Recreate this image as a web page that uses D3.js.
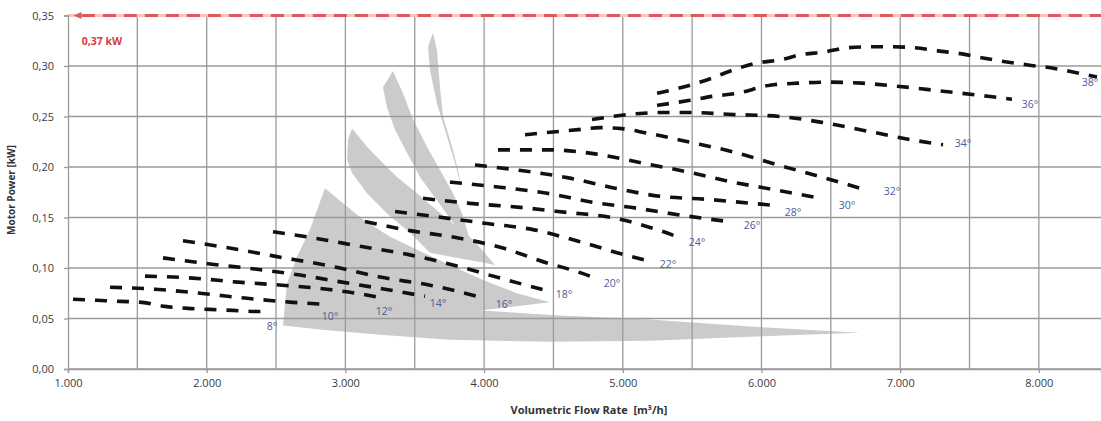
<!DOCTYPE html>
<html><head><meta charset="utf-8">
<script src="https://cdn.jsdelivr.net/npm/d3@7"></script>
<style>
html,body{margin:0;padding:0;background:#fff;}
svg{display:block;}
text{font-family:"Open Sans","Liberation Sans",sans-serif;}
</style></head>
<body><svg id="c" width="1101" height="421"></svg>
<script>
// ---- data (flow in m3/h, power in kW) ----
const angles = [8,10,12,14,16,18,20,22,24,26,28,30,32,34,36,38];
const curveFlows = [
  [1036,1209,1375,1534,1699,1865,2024,2190,2363,2456],
  [1303,1627,1952,2291,2622,2867],
  [1555,1901,2226,2543,2867,3163,3271],
  [1685,2024,2348,2673,2976,3286,3574],
  [1829,2154,2478,2961,3250,3610,4007],
  [2478,2802,3127,3466,3776,4115,4439],
  [3141,3466,3805,4129,4454,4634,4821],
  [3358,3697,4021,4353,4692,5016,5160],
  [3560,3898,4259,4598,4922,5247,5412],
  [3754,4115,4454,4785,5110,5434,5759],
  [3934,4295,4619,4944,5268,5607,5932,6097],
  [4100,4461,4800,5139,5470,5795,6112,6422],
  [4295,4677,4836,4994,5160,5470,5795,6119,6436,6761],
  [4778,5124,5290,5470,5795,6134,6443,6782,7121,7309],
  [5247,5485,5650,5823,6061,6263,6472,6725,6977,7309,7633,7806],
  [5247,5485,5643,5795,5968,6134,6278,6458,6616,6782,6948,7107,7273,7446,7597,7770,7922,8095,8246,8419]
];
const curvePowers = [
  [0.069,0.068,0.067,0.066,0.062,0.060,0.059,0.058,0.057,0.057],
  [0.081,0.079,0.075,0.070,0.066,0.064],
  [0.092,0.090,0.086,0.083,0.079,0.073,0.070],
  [0.110,0.104,0.099,0.093,0.086,0.079,0.072],
  [0.127,0.120,0.112,0.100,0.091,0.083,0.070],
  [0.136,0.129,0.121,0.113,0.103,0.090,0.078],
  [0.146,0.137,0.130,0.120,0.105,0.098,0.089],
  [0.156,0.150,0.144,0.138,0.126,0.113,0.108],
  [0.169,0.164,0.160,0.155,0.150,0.138,0.130],
  [0.185,0.180,0.174,0.165,0.159,0.152,0.146],
  [0.202,0.196,0.189,0.179,0.171,0.168,0.164,0.162],
  [0.217,0.217,0.213,0.204,0.195,0.185,0.177,0.169],
  [0.232,0.237,0.239,0.238,0.234,0.225,0.215,0.202,0.190,0.177],
  [0.247,0.253,0.254,0.254,0.252,0.250,0.244,0.235,0.226,0.222],
  [0.261,0.266,0.270,0.273,0.281,0.283,0.284,0.283,0.280,0.275,0.270,0.267],
  [0.273,0.281,0.288,0.296,0.303,0.306,0.311,0.314,0.318,0.319,0.319,0.318,0.315,0.312,0.308,0.304,0.301,0.298,0.294,0.289]
];
const labelFlows  = [2471,2889,3278,3668,4143,4576,4922,5326,5535,5932,6227,6617,6941,7453,7936,8369];
const labelPowers = [0.043,0.0525,0.057,0.065,0.064,0.074,0.085,0.104,0.126,0.143,0.155,0.162,0.176,0.224,0.262,0.284];

// grey operating-area shapes (flow, power)
const areaLowFlows  = [2853,2983,3127,3322,3516,3754,3992,4237,4475,3971,4547,5196,5917,6710,5917,5196,4475,3754,3250,2817,2550,2579,2651,2745,2802];
const areaLowPowers = [0.179,0.164,0.148,0.131,0.118,0.103,0.088,0.075,0.066,0.058,0.053,0.049,0.042,0.036,0.032,0.028,0.027,0.029,0.034,0.039,0.043,0.085,0.111,0.138,0.160];
const areaB_Flows  = [3048,3156,3249,3372,3516,3660,3805,3920,4079,3970,3610,3466,3300,3156,3048,3012,3019];
const areaB_Powers = [0.238,0.220,0.207,0.190,0.174,0.157,0.141,0.128,0.103,0.106,0.115,0.135,0.154,0.174,0.194,0.207,0.227];
const areaC_Flows  = [3343,3415,3488,3588,3682,3776,3841,3898,3848,3776,3660,3538,3444,3358,3300,3271];
const areaC_Powers = [0.295,0.273,0.247,0.220,0.197,0.174,0.154,0.128,0.133,0.145,0.167,0.190,0.214,0.237,0.259,0.279];
const areaD_Flows  = [3632,3660,3682,3704,3769,3812,3841,3790,3733,3660,3610,3596];
const areaD_Powers = [0.333,0.316,0.279,0.250,0.220,0.197,0.177,0.204,0.230,0.263,0.296,0.319];

const flowTicks  = [1000,2000,3000,4000,5000,6000,7000,8000];
const flowGrid   = [1000,1500,2000,2500,3000,3500,4000,4500,5000,5500,6000,6500,7000,7500,8000];
const powerTicks = [0,0.05,0.10,0.15,0.20,0.25,0.30,0.35];
const limitPower = 0.35;
const limitLabel = "0,37 kW";

// ---- drawing ----
const svg = d3.select("#c");
const x = d3.scaleLinear().domain([1000, 8448]).range([68, 1101]);
const y = d3.scaleLinear().domain([0, 0.35]).range([369, 15.5]);
const loc = d3.formatLocale({decimal:",", thousands:".", grouping:[3], currency:["",""]});
const fx = loc.format(",.0f"), fy = loc.format(".2f");

svg.append("defs").append("clipPath").attr("id","plot")
  .append("rect").attr("x",68).attr("y",10).attr("width",1033).attr("height",360);

const plot = svg.append("g").attr("clip-path","url(#plot)");

// grey areas
const areas = [[areaLowFlows,areaLowPowers],[areaB_Flows,areaB_Powers],[areaC_Flows,areaC_Powers],[areaD_Flows,areaD_Powers]];
const areaLine = d3.line().x(d=>x(d[0])).y(d=>y(d[1])).curve(d3.curveLinearClosed);
areas.forEach(([fs,ps])=>{
  plot.append("path").attr("d", areaLine(fs.map((f,i)=>[f,ps[i]])))
    .attr("fill","#cbcbcb").attr("stroke","none");
});

// grid
plot.selectAll(".vg").data(flowGrid).join("line")
  .attr("x1",d=>x(d)).attr("x2",d=>x(d)).attr("y1",y(0.35)).attr("y2",y(0))
  .attr("stroke","#9a9a9a").attr("stroke-width",1.3);
plot.selectAll(".hg").data(powerTicks).join("line")
  .attr("x1",68).attr("x2",1101).attr("y1",d=>y(d)).attr("y2",d=>y(d))
  .attr("stroke","#9a9a9a").attr("stroke-width",1.3);

// axes
const xAxis = svg.append("g").attr("transform",`translate(0,${y(0)})`)
  .call(d3.axisBottom(x).tickValues(flowTicks).tickFormat(fx).tickSize(4).tickPadding(6));
const yAxis = svg.append("g").attr("transform",`translate(${x(1000)},0)`)
  .call(d3.axisLeft(y).tickValues(powerTicks).tickFormat(fy).tickSize(4).tickPadding(10));
[xAxis,yAxis].forEach(a=>{
  a.select(".domain").attr("stroke","#9a9a9a").attr("stroke-width",1.3);
  a.selectAll(".tick line").attr("stroke","#9a9a9a").attr("stroke-width",1.3);
  a.selectAll(".tick text").attr("fill","#3a3a3a").style("font-size","11px")
   .style("font-family","'Open Sans','Liberation Sans',sans-serif");
});

// limit line
plot.append("line").attr("x1",68).attr("x2",1101).attr("y1",y(limitPower)).attr("y2",y(limitPower))
  .attr("stroke","#f5c4c4").attr("stroke-width",3);
plot.append("line").attr("x1",x(1100)).attr("x2",1101).attr("y1",y(limitPower)).attr("y2",y(limitPower))
  .attr("stroke","#e05858").attr("stroke-width",3).attr("stroke-dasharray","13,8");
svg.append("path").attr("d",`M${x(1040)},${y(limitPower)} l8,-3.5 l0,7 z`).attr("fill","#e05858");
svg.append("text").attr("x",x(1100)).attr("y",y(limitPower)+29).text(limitLabel)
  .attr("fill","#d33b3b").style("font-weight","bold").style("font-size","10.5px");

// curves
const line = d3.line().x(d=>x(d[0])).y(d=>y(d[1])).curve(d3.curveMonotoneX);
curveFlows.forEach((fs,i)=>{
  plot.append("path").attr("d", line(fs.map((f,j)=>[f,curvePowers[i][j]])))
    .attr("fill","none").attr("stroke","#111").attr("stroke-width",3.6)
    .attr("stroke-dasharray","12,10");
});

// angle labels
svg.selectAll(".al").data(angles).join("text")
  .attr("x",(d,i)=>x(labelFlows[i])).attr("y",(d,i)=>y(labelPowers[i])+4)
  .attr("text-anchor","middle").attr("fill","#4a5c9c").style("font-size","10.5px")
  .text(d=>d+"°");

// titles
svg.append("text").attr("x",589).attr("y",414).attr("text-anchor","middle")
  .attr("xml:space","preserve").style("white-space","pre")
  .style("font-weight","bold").style("font-size","11px").attr("fill","#333")
  .text("Volumetric Flow Rate  [m³/h]");
svg.append("text").attr("transform","translate(15,190) rotate(-90)").attr("text-anchor","middle")
  .style("font-weight","bold").style("font-size","10px").attr("fill","#333")
  .text("Motor Power [kW]");
</script></body></html>
